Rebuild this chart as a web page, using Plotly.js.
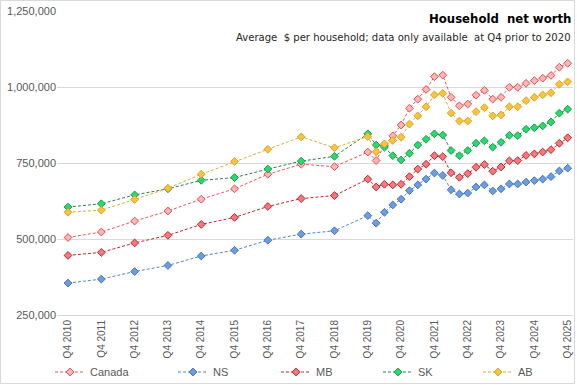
<!DOCTYPE html>
<html>
<head>
<meta charset="utf-8">
<script src="https://cdn.plot.ly/plotly-3.0.1.min.js"></script>
<style>
  html, body { margin: 0; padding: 0; background: #ffffff; }
  #chart { width: 577px; height: 385px; }
</style>
</head>
<body>
<div id="chart"></div>
<script>
// ---- Data ----
const periods = [
  "Q4 2010","Q4 2011","Q4 2012","Q4 2013","Q4 2014","Q4 2015","Q4 2016","Q4 2017","Q4 2018","Q4 2019",
  "Q1 2020","Q2 2020","Q3 2020","Q4 2020",
  "Q1 2021","Q2 2021","Q3 2021","Q4 2021",
  "Q1 2022","Q2 2022","Q3 2022","Q4 2022",
  "Q1 2023","Q2 2023","Q3 2023","Q4 2023",
  "Q1 2024","Q2 2024","Q3 2024","Q4 2024",
  "Q1 2025","Q2 2025","Q3 2025","Q4 2025"
];

const canada = [505000, 523000, 559000, 592000, 631000, 665000, 713000, 746000, 738000, 786000,
  758000, 809000, 839000, 875000, 930000, 960000, 992000, 1034000, 1039000, 966000, 938000, 944000,
  973000, 989000, 960000, 966000, 999000, 999000, 1012000, 1021000, 1029000, 1038000, 1065000, 1078000];

const ns = [355000, 368000, 393000, 413000, 444000, 463000, 496000, 516000, 527000, 577000,
  552000, 588000, 612000, 631000, 659000, 678000, 697000, 717000, 709000, 662000, 648000, 651000,
  671000, 678000, 658000, 665000, 681000, 681000, 687000, 692000, 697000, 705000, 724000, 733000];

const mb = [446000, 456000, 487000, 512000, 548000, 571000, 607000, 633000, 643000, 697000,
  671000, 680000, 678000, 680000, 705000, 730000, 746000, 774000, 771000, 718000, 703000, 715000,
  736000, 745000, 723000, 737000, 757000, 758000, 775000, 780000, 786000, 794000, 815000, 833000];

const sk = [605000, 616000, 645000, 665000, 693000, 702000, 730000, 756000, 772000, 846000,
  809000, 802000, 774000, 760000, 782000, 809000, 828000, 846000, 842000, 791000, 774000, 791000,
  815000, 823000, 802000, 818000, 841000, 840000, 861000, 866000, 872000, 885000, 914000, 927000];

const ab = [588000, 595000, 630000, 667000, 713000, 755000, 795000, 836000, 800000, 837000,
  787000, 813000, 824000, 835000, 878000, 905000, 935000, 974000, 979000, 914000, 888000, 888000,
  919000, 932000, 905000, 908000, 935000, 935000, 955000, 966000, 974000, 981000, 1009000, 1017000];

const seriesNames = ["Canada", "NS", "MB", "SK", "AB"];

const xTickLabels = ["Q4 2010","Q4 2011","Q4 2012","Q4 2013","Q4 2014","Q4 2015","Q4 2016","Q4 2017",
  "Q4 2018","Q4 2019","Q4 2020","Q4 2021","Q4 2022","Q4 2023","Q4 2024","Q4 2025"];

const yTickVals = [250000, 500000, 750000, 1000000, 1250000];

const titleText = "Household  net worth";
const subtitleText = "Average  $ per household; data only available  at Q4 prior to 2020";

// ---- Helpers ----
// "Qn YYYY" -> time position in years (time-proportional axis, as in the original)
function periodToX(p) {
  const parts = p.split(" ");
  const q = parseInt(parts[0].slice(1), 10);
  const y = parseInt(parts[1], 10);
  return y + (q - 1) / 4;
}
const xs = periods.map(periodToX);

// ---- Styles ----
const styles = [
  { line: "#ee5656", fill: "#ffb6b6", edge: "#ea4a4f" },   // Canada
  { line: "#4f86c6", fill: "#6c9de0", edge: "#4673b8" },   // NS
  { line: "#c0262d", fill: "#f27a7e", edge: "#c0262d" },   // MB
  { line: "#2e7f4c", fill: "#2ad86e", edge: "#15a04a" },   // SK
  { line: "#d6ae3c", fill: "#f7c343", edge: "#dea41a" }    // AB
];
const allSeries = [canada, ns, mb, sk, ab];

const legendIds = ["legend", "legend2", "legend3", "legend4", "legend5"];

const traces = allSeries.map((vals, i) => ({
  type: "scatter",
  mode: "lines+markers",
  name: seriesNames[i],
  x: xs,
  y: vals,
  legend: legendIds[i],
  line: { color: styles[i].line, width: 1, dash: "3px,2px" },
  marker: {
    symbol: "diamond",
    size: 6,
    color: styles[i].fill,
    line: { color: styles[i].edge, width: 1 }
  },
  hoverinfo: "skip"
}));

// ---- Geometry (pixels) ----
const W = 577, H = 385;
const mL = 57, mR = 4, mT = 11, mB = 70;
const plotW = W - mL - mR, plotH = H - mT - mB;
const px2paperX = (px) => (px - mL) / plotW;
const px2paperY = (py) => (H - mB - py) / plotH;

// legend entry positions (pixels)
const legendPx = [50, 173, 276, 378, 478];
const legendY = 372;

const legendFont = { family: "Liberation Sans, Arial, sans-serif", size: 11, color: "#595959" };
const titleFamily = "DejaVu Sans Condensed, Liberation Sans Narrow, Arial Narrow, sans-serif";
const layout = {
  width: W,
  height: H,
  margin: { l: mL, r: mR, t: mT, b: mB, autoexpand: false },
  paper_bgcolor: "#ffffff",
  plot_bgcolor: "#ffffff",
  showlegend: true,
  xaxis: {
    type: "linear",
    range: [2010.42, 2025.91],
    tickmode: "array",
    tickvals: xTickLabels.map(periodToX),
    ticktext: xTickLabels,
    tickangle: -90,
    ticks: "",
    showgrid: false,
    zeroline: false,
    showline: true,
    linecolor: "#d9d9d9",
    linewidth: 1,
    tickfont: { family: "Liberation Sans, Arial, sans-serif", size: 10, color: "#595959" },
    fixedrange: true
  },
  yaxis: {
    range: [250000, 1250000],
    tickmode: "array",
    tickvals: yTickVals,
    tickformat: ",d",
    ticks: "",
    showgrid: true,
    gridcolor: "#d9d9d9",
    gridwidth: 1,
    zeroline: false,
    showline: false,
    tickfont: { family: "Liberation Sans, Arial, sans-serif", size: 11, color: "#595959" },
    fixedrange: true
  },
  annotations: [
    {
      text: "<b>" + titleText + "</b>",
      xref: "paper", yref: "paper",
      x: px2paperX(573), y: px2paperY(19),
      xanchor: "right", yanchor: "middle",
      showarrow: false,
      font: { family: titleFamily, size: 13, color: "#000000" }
    },
    {
      text: subtitleText,
      xref: "paper", yref: "paper",
      x: px2paperX(573), y: px2paperY(38),
      xanchor: "right", yanchor: "middle",
      showarrow: false,
      font: { family: titleFamily, size: 11.2, color: "#262626" }
    }
  ],
  shapes: [
    {
      type: "rect", xref: "paper", yref: "paper",
      x0: px2paperX(0.5), x1: px2paperX(574.5),
      y0: px2paperY(383.5), y1: px2paperY(0.5),
      line: { color: "#d9d9d9", width: 1 },
      fillcolor: "rgba(0,0,0,0)",
      layer: "below"
    }
  ]
};

legendIds.forEach((id, i) => {
  layout[id] = {
    orientation: "h",
    x: px2paperX(legendPx[i]),
    y: px2paperY(legendY),
    xanchor: "left",
    yanchor: "middle",
    bgcolor: "rgba(0,0,0,0)",
    font: legendFont,
    borderwidth: 0
  };
});

Plotly.newPlot("chart", traces, layout, { displayModeBar: false, staticPlot: true });
</script>
</body>
</html>
